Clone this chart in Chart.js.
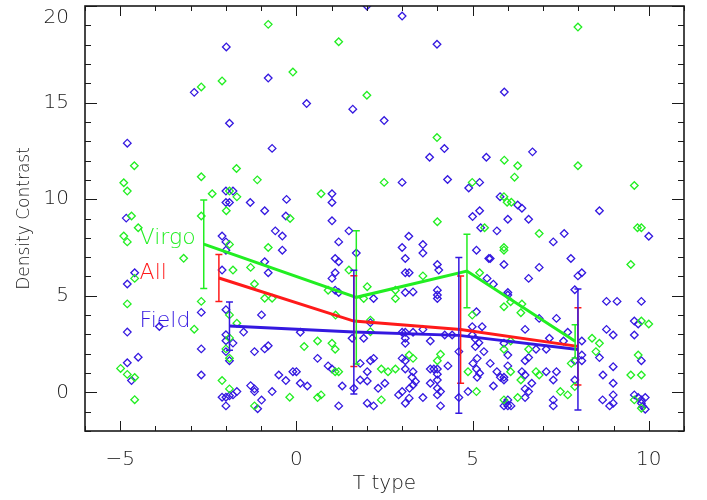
<!DOCTYPE html>
<html>
<head>
<meta charset="utf-8">
<script src="https://cdn.jsdelivr.net/npm/chart.js@4.4.1/dist/chart.umd.min.js"></script>
<style>
  html, body { margin: 0; padding: 0; background: #fff; }
  canvas { display: block; }
</style>
</head>
<body>
<canvas id="chart" width="707" height="500"></canvas>
<script>
// --- Data ---

const xTickValues = [-5, 0, 5, 10];
const yTickValues = [0, 5, 10, 15, 20];

// Virgo galaxies (green diamonds), [T type, density contrast]
const virgoPoints = [
  [-0.8, 19.05], [-0.1, 16.58], [-2.11, 16.12], [-2.7, 15.81], [-4.6, 11.73], [-1.7, 11.59],
  [-2.7, 11.16], [-1.11, 11.0], [-4.9, 10.85], [-4.8, 10.42], [-2.39, 10.28], [-1.9, 10.42],
  [-1.69, 10.12], [-1.99, 9.4], [-4.68, 9.13], [-2.7, 9.13], [-0.18, 9.0], [-4.49, 8.52],
  [-4.9, 8.09], [-4.8, 7.79], [-1.9, 7.66], [-0.8, 7.5], [-3.2, 6.94], [-1.3, 6.47],
  [-4.59, 5.9], [-1.8, 6.33], [-1.19, 5.61], [-0.9, 4.87], [-0.69, 4.87], [-4.8, 4.58],
  [-2.7, 4.71], [-1.9, 4.01], [-1.69, 3.58], [-2.9, 3.27], [-1.9, 2.82], [-2.0, 2.25],
  [-1.9, 1.77], [-4.99, 1.24], [-4.8, 0.93], [-4.59, 0.77], [-4.59, -0.38], [-2.11, 0.61],
  [-1.9, 0.18], [-1.19, -0.7], [-0.19, -0.25],
  [1.2, 18.15], [2.0, 15.38], [3.99, 13.19], [2.49, 10.87], [4.99, 10.87], [0.7, 10.28],
  [4.0, 8.83], [5.34, 8.52], [1.49, 6.33], [3.59, 6.03], [5.2, 6.19], [2.01, 5.47],
  [0.9, 5.29], [2.81, 5.29], [2.81, 4.86], [1.91, 4.86], [4.99, 4.0], [1.11, 4.0],
  [2.1, 3.74], [2.1, 3.14], [0.6, 2.66], [0.22, 2.37], [1.01, 2.54], [1.1, 2.23],
  [3.2, 1.93], [3.31, 1.76], [4.0, 1.64], [4.09, 1.97], [4.87, 1.07], [1.1, 1.07],
  [1.2, 1.07], [2.41, 1.21], [2.6, 1.07], [2.81, 1.21], [5.11, 0.04], [0.6, -0.27],
  [0.7, -0.13], [2.41, -0.39],
  [7.99, 18.91], [5.9, 12.02], [6.28, 11.73], [7.99, 11.73], [6.19, 11.14], [9.59, 10.71],
  [5.89, 10.13], [5.98, 9.84], [6.1, 9.84], [6.89, 8.22], [9.68, 8.52], [9.79, 8.52],
  [5.89, 7.5], [5.89, 7.36], [9.49, 6.62], [6.08, 4.69], [6.4, 4.57], [5.89, 4.43],
  [6.37, 4.12], [9.79, 3.69], [10.0, 3.54], [8.39, 2.8], [8.6, 2.54], [6.08, 2.66],
  [6.59, 2.23], [5.89, 2.23], [8.5, 2.11], [7.8, 1.5], [9.7, 1.93], [6.08, 1.07],
  [6.8, 1.07], [6.89, 0.9], [6.37, 0.64], [7.9, 0.3], [7.49, 0.04], [7.7, -0.13],
  [9.49, 0.9], [9.79, 0.9], [6.28, -0.27], [5.89, -0.39], [9.59, -0.39], [9.79, -0.82]
];

// Field galaxies (blue diamonds)
const fieldPoints = [
  [-1.99, 17.88], [-0.8, 16.27], [-2.9, 15.53], [-1.9, 13.93], [-4.8, 12.9], [-0.69, 12.63],
  [-2.0, 10.42], [-1.8, 10.42], [-2.0, 9.83], [-1.9, 9.83], [-1.31, 9.83], [-0.28, 9.99],
  [-0.9, 9.4], [-0.3, 9.13], [-4.83, 9.02], [-2.11, 8.09], [-2.0, 7.79], [-2.0, 7.36],
  [-0.6, 8.36], [-0.4, 8.09], [-0.4, 7.36], [-0.9, 6.76], [-0.8, 6.19], [-4.59, 6.19],
  [-4.8, 5.61], [-2.11, 6.33], [-0.99, 4.01], [-2.7, 4.14], [-2.0, 4.28], [-3.89, 3.41],
  [-4.8, 3.12], [-1.5, 3.12], [-2.0, 2.98], [-2.0, 2.67], [-1.8, 2.55], [-2.7, 2.25],
  [-2.0, 2.11], [-1.9, 1.64], [-1.19, 2.11], [-0.9, 2.25], [-0.8, 2.41], [-4.49, 1.82],
  [-4.8, 1.53], [-4.68, 0.61], [-2.7, 0.9], [-2.11, -0.25], [-2.0, -0.25], [-1.9, -0.18],
  [-1.8, -0.13], [-1.69, 0.04], [-2.0, -0.7], [-1.3, 0.35], [-1.19, 0.18], [-1.19, 0.04],
  [-1.1, -0.85], [-0.99, -0.4], [-0.69, 0.04], [-0.5, 0.9], [-0.3, 0.61],
  [2.0, 20.0], [3.0, 19.48], [3.99, 18.02], [0.29, 14.95], [1.6, 14.66], [2.49, 14.07],
  [4.2, 12.62], [3.78, 12.17], [5.39, 12.17], [3.0, 10.87], [4.29, 11.02], [5.2, 10.87],
  [4.89, 10.58], [1.01, 10.28], [1.01, 9.83], [5.2, 9.4], [5.0, 9.1], [1.01, 8.88],
  [1.49, 8.36], [5.23, 8.52], [3.19, 8.08], [1.2, 7.79], [3.59, 7.65], [3.0, 7.5],
  [5.11, 7.36], [3.59, 7.21], [1.7, 7.21], [1.1, 6.93], [1.2, 6.76], [3.09, 6.93],
  [5.46, 6.93], [4.0, 6.62], [4.04, 6.33], [3.09, 6.19], [3.2, 6.19], [1.1, 6.19],
  [1.01, 5.9], [5.41, 5.9], [1.1, 5.29], [1.2, 5.17], [3.09, 5.17], [3.31, 5.2],
  [4.0, 5.29], [4.0, 5.04], [4.0, 4.86], [2.19, 4.86], [5.11, 4.17], [2.1, 3.61],
  [4.99, 3.4], [5.27, 3.4], [0.11, 3.11], [3.0, 3.11], [3.09, 3.11], [3.31, 3.11],
  [3.59, 3.26], [4.21, 2.97], [4.42, 2.97], [3.09, 2.8], [3.09, 2.54], [1.58, 2.8],
  [1.91, 2.8], [3.8, 2.66], [4.99, 2.97], [5.08, 2.76], [5.18, 2.57], [5.08, 2.37],
  [5.32, 2.11], [4.61, 2.11], [0.6, 1.76], [1.81, 1.5], [2.1, 1.64], [2.19, 1.76],
  [3.0, 1.76], [3.09, 1.64], [4.3, 1.37], [5.01, 1.5], [5.13, 1.76], [5.11, 1.21],
  [5.2, 0.99], [5.13, 0.78], [0.9, 1.37], [1.01, 1.21], [2.01, 1.07], [3.09, 1.21],
  [3.31, 1.07], [3.8, 1.21], [3.9, 1.21], [4.0, 1.21], [4.0, 0.94], [-0.1, 1.07],
  [0.0, 1.07], [0.11, 0.47], [0.31, 0.33], [1.3, 0.33], [1.81, 0.64], [2.01, 0.59],
  [2.32, 0.21], [2.51, 0.47], [3.0, 0.04], [2.9, -0.13], [3.21, 0.21], [3.31, 0.38],
  [3.38, 0.56], [3.28, 0.78], [3.8, 0.47], [4.0, 0.64], [4.0, 0.21], [4.09, 0.04],
  [4.0, -0.13], [4.87, 0.04], [4.61, -0.27], [2.01, -0.56], [2.19, -0.7], [1.2, -0.7],
  [3.09, -0.56], [3.2, -0.3], [3.59, -0.27], [4.09, -0.7], [1.63, 0.21],
  [5.9, 15.55], [6.7, 12.45], [5.78, 10.13], [6.28, 9.7], [6.4, 9.53], [8.6, 9.4],
  [6.0, 8.96], [6.59, 8.96], [5.69, 8.36], [7.6, 8.22], [7.29, 7.79], [10.0, 8.08],
  [5.5, 6.93], [5.89, 6.62], [6.89, 6.47], [7.79, 6.93], [6.59, 5.9], [7.99, 6.03],
  [8.1, 6.19], [5.59, 5.6], [7.9, 5.31], [6.0, 5.17], [6.0, 5.04], [8.8, 4.71],
  [9.1, 4.71], [9.79, 4.71], [6.89, 3.83], [7.38, 3.83], [9.59, 3.69], [9.7, 3.54],
  [6.49, 3.26], [7.7, 3.11], [8.8, 3.26], [8.99, 2.97], [9.59, 2.97], [7.18, 2.8],
  [7.58, 2.66], [8.1, 2.66], [5.89, 2.54], [6.8, 2.23], [7.09, 2.23], [5.5, 1.5],
  [6.0, 1.93], [6.49, 1.64], [6.59, 1.8], [8.6, 1.8], [8.1, 1.93], [8.1, 1.64],
  [7.9, 1.64], [9.79, 1.64], [6.0, 1.37], [5.69, 1.07], [5.79, 0.78], [5.89, 0.64],
  [5.89, 0.78], [6.4, 1.07], [6.49, 0.9], [7.09, 1.07], [7.38, 1.07], [7.29, 0.64],
  [7.9, 0.64], [6.68, 0.47], [5.59, 0.33], [6.49, 0.18], [6.59, 0.04], [8.7, 0.9],
  [8.99, 1.33], [8.99, 0.47], [6.49, -0.27], [8.99, -0.13], [8.69, -0.39], [8.89, -0.7],
  [8.99, -0.56], [7.29, -0.39], [7.29, -0.7], [5.89, -0.7], [6.0, -0.7], [6.09, -0.7],
  [6.0, -0.39], [5.95, -0.55], [9.59, -0.13], [9.7, -0.27], [9.79, -0.39], [9.9, -0.27],
  [9.79, -0.56], [9.83, -0.73], [9.9, -0.87]
];

// Binned means with error bars
const virgoBinX = [-2.63, 1.7, 4.84, 7.91];
const virgoMean = [7.67, 4.92, 6.28, 2.64];
const virgoErr = [2.29, 3.45, 1.9, 0.86];

const allBinX = [-2.2, 1.63, 4.66, 7.99];
const allMean = [5.92, 3.69, 3.25, 2.38];
const allErr = [1.22, 2.35, 2.78, 2.0];

const fieldBinX = [-1.9, 1.63, 4.61, 7.99];
const fieldMean = [3.43, 3.12, 2.95, 2.22];
const fieldErr = [1.25, 3.2, 4.03, 3.13];

const seriesNames = ['Virgo', 'All', 'Field'];
const labelX = [-4.45, -4.45, -4.45];
const labelY = [7.67, 5.88, 3.38];

// --- Styling ---

const GREEN = '#22ee22';
const RED = '#ff1a1a';
const BLUE = '#3418e0';
const INK = '#1a1a1a';
const FONT = 'DejaVu Sans';
const X_MIN = -6, X_MAX = 11, Y_MIN = -2, Y_MAX = 20;

const seriesColors = [GREEN, RED, BLUE];
const binSets = [
  { x: virgoBinX, mean: virgoMean, err: virgoErr },
  { x: allBinX, mean: allMean, err: allErr },
  { x: fieldBinX, mean: fieldMean, err: fieldErr },
];

function toXY(pairs) {
  return pairs.map(p => ({ x: p[0], y: p[1] }));
}

function meanLine(bins) {
  return bins.x.map((x, i) => ({ x, y: bins.mean[i] }));
}

function formatTick(v) {
  return v < 0 ? '\u2212' + Math.abs(v) : String(v);
}

// IDL-style frame: box round the plot with inward ticks on every side
const frameAndTicks = {
  id: 'frameAndTicks',
  afterDraw(chart) {
    const { ctx, chartArea: a, scales: { x, y } } = chart;
    ctx.save();
    ctx.strokeStyle = INK;
    ctx.lineWidth = 1;
    ctx.beginPath();
    for (let v = Math.ceil(X_MIN); v <= X_MAX; v++) {
      const px = Math.round(x.getPixelForValue(v)) + 0.5;
      const len = v % 5 === 0 ? 10 : 5;
      ctx.moveTo(px, a.bottom); ctx.lineTo(px, a.bottom - len);
      ctx.moveTo(px, a.top); ctx.lineTo(px, a.top + len);
    }
    for (let v = Math.ceil(Y_MIN); v <= Y_MAX; v++) {
      const py = Math.round(y.getPixelForValue(v)) + 0.5;
      const len = v % 5 === 0 ? 12 : 6;
      ctx.moveTo(a.left, py); ctx.lineTo(a.left + len, py);
      ctx.moveTo(a.right, py); ctx.lineTo(a.right - len, py);
    }
    ctx.stroke();
    ctx.lineWidth = 1.6;
    ctx.strokeRect(a.left, a.top, a.right - a.left, a.bottom - a.top);
    ctx.restore();
  }
};

// Vertical error bars with small caps, drawn over the mean lines
const errorBars = {
  id: 'errorBars',
  afterDatasetsDraw(chart) {
    const { ctx, scales: { x, y } } = chart;
    ctx.save();
    ctx.lineWidth = 1.5;
    binSets.forEach((bins, s) => {
      ctx.strokeStyle = seriesColors[s];
      ctx.beginPath();
      bins.x.forEach((bx, i) => {
        const px = x.getPixelForValue(bx);
        const top = y.getPixelForValue(bins.mean[i] + bins.err[i]);
        const bot = y.getPixelForValue(bins.mean[i] - bins.err[i]);
        ctx.moveTo(px, top); ctx.lineTo(px, bot);
        ctx.moveTo(px - 3.5, top); ctx.lineTo(px + 3.5, top);
        ctx.moveTo(px - 3.5, bot); ctx.lineTo(px + 3.5, bot);
      });
      ctx.stroke();
    });
    ctx.restore();
  }
};

// Series names written inside the plot
const seriesLabels = {
  id: 'seriesLabels',
  afterDatasetsDraw(chart) {
    const { ctx, scales: { x, y } } = chart;
    ctx.save();
    ctx.font = `200 22px "${FONT}"`;
    ctx.textAlign = 'left';
    ctx.textBaseline = 'alphabetic';
    seriesNames.forEach((name, i) => {
      ctx.fillStyle = seriesColors[i];
      ctx.fillText(name, x.getPixelForValue(labelX[i]), y.getPixelForValue(labelY[i]));
    });
    ctx.restore();
  }
};

function pointSet(data, color) {
  return {
    type: 'scatter',
    data: toXY(data),
    pointStyle: 'rectRot',
    pointRadius: 3.8,
    pointBorderWidth: 1.3,
    pointBorderColor: color,
    pointBackgroundColor: 'rgba(0,0,0,0)',
    order: 2,
  };
}

function lineSet(bins, color) {
  return {
    type: 'line',
    data: meanLine(bins),
    borderColor: color,
    borderWidth: 3,
    pointRadius: 0,
    fill: false,
    tension: 0,
    order: 1,
  };
}

function zeroPadding(scale) {
  scale.paddingTop = 0;
  scale.paddingBottom = 0;
  scale.paddingLeft = 0;
  scale.paddingRight = 0;
}

new Chart(document.getElementById('chart'), {
  type: 'scatter',
  data: {
    datasets: [
      pointSet(virgoPoints, GREEN),
      pointSet(fieldPoints, BLUE),
      lineSet(binSets[0], GREEN),
      lineSet(binSets[1], RED),
      lineSet(binSets[2], BLUE),
    ],
  },
  options: {
    responsive: false,
    animation: false,
    devicePixelRatio: 1,
    layout: { padding: { top: 6, right: 23, left: 0, bottom: 0 } },
    plugins: {
      legend: { display: false },
      tooltip: { enabled: false },
    },
    scales: {
      x: {
        type: 'linear',
        min: X_MIN,
        max: X_MAX,
        grid: { display: false },
        border: { display: false },
        afterBuildTicks: axis => { axis.ticks = xTickValues.map(v => ({ value: v })); },
        afterFit: scale => { scale.height = 69; zeroPadding(scale); },
        ticks: {
          autoSkip: false,
          maxRotation: 0,
          padding: 9,
          color: INK,
          font: { family: FONT, size: 20, weight: 200 },
          callback: v => formatTick(v),
        },
        title: {
          display: true,
          text: 'T type',
          color: INK,
          font: { family: FONT, size: 20, weight: 200 },
          padding: { top: 0, bottom: 4 },
        },
      },
      y: {
        type: 'linear',
        min: Y_MIN,
        max: Y_MAX,
        grid: { display: false },
        border: { display: false },
        afterBuildTicks: axis => { axis.ticks = yTickValues.map(v => ({ value: v })); },
        afterFit: scale => { scale.width = 85; zeroPadding(scale); },
        ticks: {
          autoSkip: false,
          padding: 8,
          color: INK,
          font: { family: FONT, size: 20, weight: 200 },
          // top label sits just under the frame, as in the original
          callback: v => (v === Y_MAX ? ['', formatTick(v)] : formatTick(v)),
        },
        title: {
          display: true,
          text: 'Density Contrast',
          color: INK,
          font: { family: FONT, size: 17, weight: 200 },
          padding: { top: 14, bottom: 0 },
        },
      },
    },
  },
  plugins: [errorBars, seriesLabels, frameAndTicks],
});
</script>
</body>
</html>
